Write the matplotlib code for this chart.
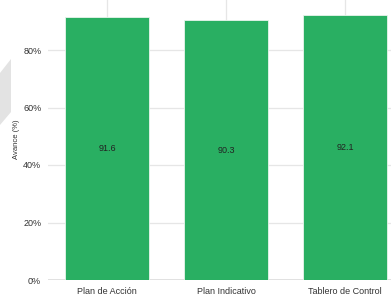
import matplotlib
matplotlib.use('Agg')
import matplotlib.pyplot as plt
from matplotlib.patches import Polygon
from matplotlib.ticker import PercentFormatter

categorias = ['Plan de Acción', 'Plan Indicativo', 'Tablero de Control']
avance = [91.6, 90.3, 92.1]
y_ticks = [0, 20, 40, 60, 80]

plt.rcParams['font.family'] = ['Liberation Sans', 'DejaVu Sans']

fig = plt.figure(figsize=(3.91, 2.95), dpi=100)
# axes runs past the right and top edge, like the cropped original
ax = fig.add_axes([47.5 / 391, 15 / 295, 357 / 391, 287.5 / 295])

# grey decoration on the left edge
fig.patches.append(Polygon([[0, 222 / 295], [11 / 391, 236 / 295],
                            [11 / 391, 183 / 295], [0, 170 / 295]],
                           closed=True, transform=fig.transFigure,
                           facecolor='#e3e3e3', edgecolor='none', zorder=0))

x = range(len(categorias))
bars = ax.bar(x, avance, width=0.705, color='#29af62', edgecolor='#e8f5ec',
              linewidth=0.6, zorder=3)
for b, v in zip(bars, avance):
    ax.text(b.get_x() + b.get_width() / 2, v / 2, f'{v:.1f}', ha='center',
            va='center', fontsize=6.5, color='#222222', zorder=4)

ax.set_xlim(-0.5, 2.5)
ax.set_ylim(0, 100)
ax.set_yticks(y_ticks)
ax.yaxis.set_major_formatter(PercentFormatter(decimals=0))
ax.set_xticks(list(x))
ax.set_xticklabels(categorias)
ax.tick_params(axis='both', length=0, labelsize=6.5, colors='#333333')
ax.tick_params(axis='y', pad=4.5)
ax.tick_params(axis='x', pad=5)
ax.grid(True, color='#e6e6e6', linewidth=0.9, zorder=0)
ax.axhline(0, color='#dcdcdc', linewidth=1.2, zorder=1)
for s in ax.spines.values():
    s.set_visible(False)
ax.set_ylabel('Avance (%)', fontsize=5.5, color='#333333')
ax.yaxis.set_label_coords(-0.077, 0.49)

fig.savefig('out.png', dpi=100)
plt.close(fig)
